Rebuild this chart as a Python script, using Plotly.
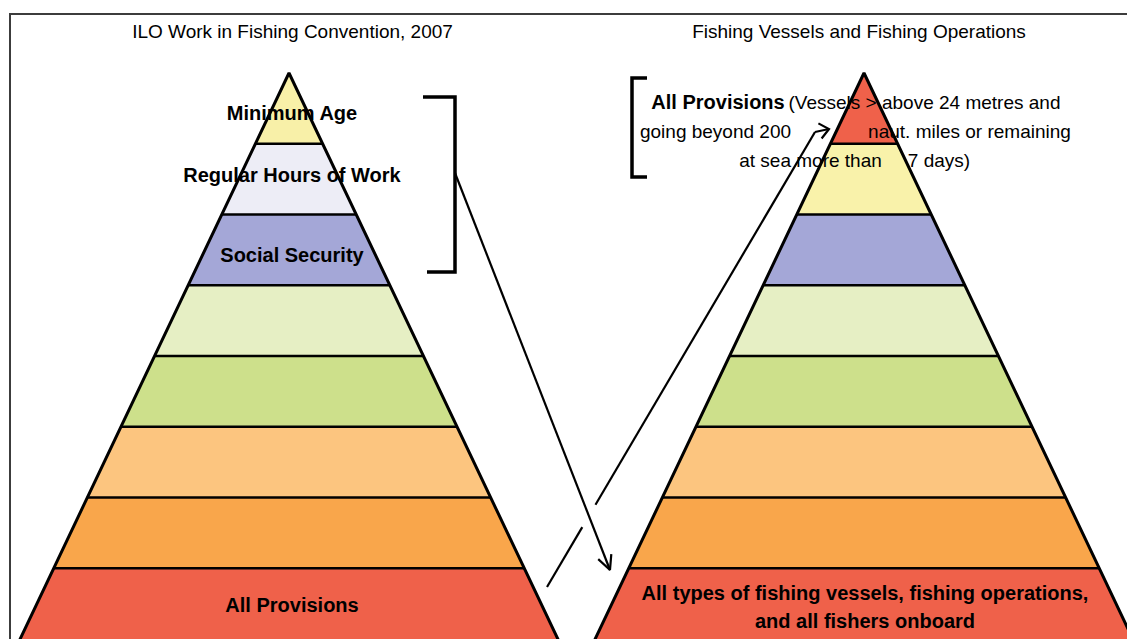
import math
import plotly.graph_objects as go

# ---------------- data ----------------
titles = ["ILO Work in Fishing Convention, 2007", "Fishing Vessels and Fishing Operations"]

# band colours, top -> bottom
left_colors = ["#F8F0A8", "#EDEDF6", "#A4A7D7", "#E6EFC4", "#CDE08B", "#FCC57F", "#F9A64B", "#EF614A"]
right_colors = ["#EF614A", "#F9F2AA", "#A4A7D7", "#E6EFC4", "#CDE08B", "#FCC57F", "#F9A64B", "#EF614A"]

# labels in left pyramid, one per band (top -> bottom)
left_band_labels = ["Minimum Age", "Regular Hours of Work", "Social Security", "", "", "", "", "All Provisions"]
right_bottom_lines = ["All types of fishing vessels, fishing operations,", "and all fishers onboard"]

# top-right note, split in segments as laid out
note_segments = [
    "<b>All Provisions</b>", "(Vessels > above 24 metres and",
    "going beyond 200", "naut. miles or remaining",
    "at sea more than", "7 days)",
]

# ---------------- layout constants ----------------
W, H = 1127, 639
APEX_Y = 73.0
BAND_H = 70.75
SLOPE = 0.475
APEX_X = [289.0, 864.0]
FONT = "Liberation Sans, Arial, sans-serif"

fig = go.Figure()


def half_w(y):
    return SLOPE * (y - APEX_Y)


def band_poly(cx, i):
    yt = APEX_Y + i * BAND_H
    yb = APEX_Y + (i + 1) * BAND_H
    if i == 7:
        yb = H + 3
    xs = [cx - half_w(yt), cx + half_w(yt), cx + half_w(yb), cx - half_w(yb), cx - half_w(yt)]
    ys = [yt, yt, yb, yb, yt]
    return xs, ys


# fills
for cx, cols in zip(APEX_X, [left_colors, right_colors]):
    for i, c in enumerate(cols):
        xs, ys = band_poly(cx, i)
        fig.add_trace(go.Scatter(x=xs, y=ys, fill="toself", fillcolor=c, mode="lines",
                                 line=dict(width=0, color=c), hoverinfo="skip"))


def add_text(x, y, text, size, pos="middle center"):
    fig.add_trace(go.Scatter(x=[x], y=[y], mode="text", text=[text], textposition=pos,
                             textfont=dict(family=FONT, size=size, color="black"),
                             hoverinfo="skip"))


# titles
add_text(292.5, 33.5, titles[0], 19)
add_text(859, 33.5, titles[1], 19)

# left labels
left_label_y = [114.5, 176.5, 256.7, None, None, None, None, 607]
for lab, ly in zip(left_band_labels, left_label_y):
    if lab:
        add_text(292, ly, "<b>" + lab + "</b>", 20)

# right bottom labels
add_text(865, 594.5, "<b>" + right_bottom_lines[0] + "</b>", 20)
add_text(865, 622.5, "<b>" + right_bottom_lines[1] + "</b>", 20)

# top-right note
note_pos = [(718, 103.5, 20), (924.5, 104, 19), (715.5, 133, 19), (969.5, 133, 19),
            (810.5, 162, 19), (939, 162, 19)]
for seg, (nx, ny, ns) in zip(note_segments, note_pos):
    add_text(nx, ny, seg, ns)

# pyramid outlines
for cx in APEX_X:
    yb = H + 3
    fig.add_trace(go.Scatter(x=[cx - half_w(yb), cx, cx + half_w(yb)], y=[yb, APEX_Y, yb],
                             mode="lines", line=dict(color="black", width=3), hoverinfo="skip"))
    for i in range(1, 8):
        y = APEX_Y + i * BAND_H
        fig.add_trace(go.Scatter(x=[cx - half_w(y), cx + half_w(y)], y=[y, y], mode="lines",
                                 line=dict(color="black", width=2.5), hoverinfo="skip"))


def line(xs, ys, w=2.2, color="black"):
    fig.add_trace(go.Scatter(x=xs, y=ys, mode="lines", line=dict(color=color, width=w),
                             hoverinfo="skip"))


# brackets
line([423, 455, 455, 427], [97, 97, 272, 272], w=3.5)
line([647, 632, 632, 647], [78, 78, 177, 177], w=3.5)

# arrow 1: bracket -> bottom of right pyramid
a1 = ((455, 173), (610, 570))
line([a1[0][0], a1[1][0]], [a1[0][1], a1[1][1]])


def head(tip, tail, length=16, ang=26):
    dx, dy = tip[0] - tail[0], tip[1] - tail[1]
    L = math.hypot(dx, dy)
    ux, uy = dx / L, dy / L
    pts = []
    for s in (1, -1):
        a = math.radians(ang * s)
        rx = ux * math.cos(a) - uy * math.sin(a)
        ry = ux * math.sin(a) + uy * math.cos(a)
        pts.append((tip[0] - length * rx, tip[1] - length * ry))
    line([pts[0][0], tip[0], pts[1][0]], [pts[0][1], tip[1], pts[1][1]])


head(a1[1], a1[0])

# arrow 2: bottom-left up to the top red triangle, hopping over arrow 1
p0, p1 = (547, 587), (815, 132)
x1, y1 = a1[0]
x2, y2 = a1[1]
dxa, dya = x2 - x1, y2 - y1
dxb, dyb = p1[0] - p0[0], p1[1] - p0[1]
den = dxb * dya - dyb * dxa
t = ((x1 - p0[0]) * dya - (y1 - p0[1]) * dxa) / den
Lb = math.hypot(dxb, dyb)
g = 13 / Lb
ta, tb = t - g, t + g
line([p0[0], p0[0] + dxb * ta], [p0[1], p0[1] + dyb * ta])
line([p0[0] + dxb * tb, p1[0]], [p0[1] + dyb * tb, p1[1]])
hook_tip = (829, 129)
line([p1[0], hook_tip[0]], [p1[1], hook_tip[1]])
head(hook_tip, p1, length=12, ang=40)

# frame (top and left)
line([10, 10, W + 5], [H + 5, 14, 14], w=2, color="#3C3C3C")

fig.update_layout(
    width=W, height=H, margin=dict(l=0, r=0, t=0, b=0),
    paper_bgcolor="white", plot_bgcolor="white", showlegend=False,
    xaxis=dict(range=[0, W], visible=False, fixedrange=True),
    yaxis=dict(range=[H, 0], visible=False, fixedrange=True),
)
fig.write_html(
    "out.html",
    config={"displayModeBar": False},
    post_script="document.body.style.margin='0';document.body.style.overflow='hidden';",
)
